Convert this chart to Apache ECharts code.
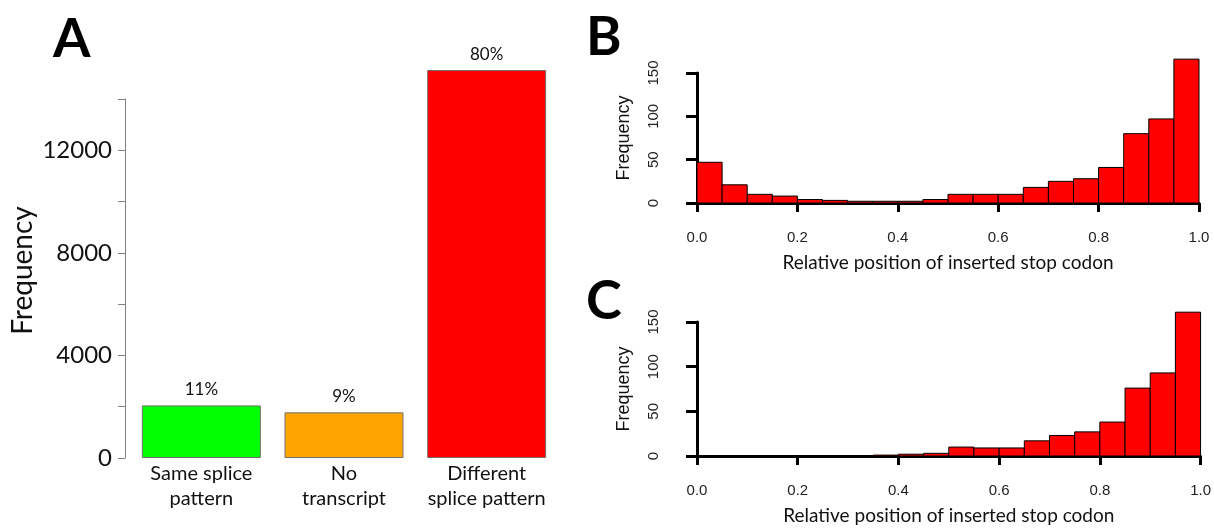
<!DOCTYPE html>
<html>
<head>
<meta charset="utf-8">
<script src="https://cdn.jsdelivr.net/npm/echarts@6/dist/echarts.min.js"></script>
<style>
html, body { margin: 0; padding: 0; background: #fff; }
#chart { width: 1214px; height: 529px; }
</style>
</head>
<body>
<div id="chart"></div>
<script>
// panel A: outcome counts
const outcomeNames = ['Same splice\npattern', 'No\ntranscript', 'Different\nsplice pattern'];
const outcomeCounts = [2050, 1780, 15130];
const outcomePct = ['11%', '9%', '80%'];
const outcomeColors = ['#00ff00', '#ffa500', '#ff0000'];

// panels B and C: histograms of relative stop codon position (bins of 0.05)
const binStarts = [0, 0.05, 0.1, 0.15, 0.2, 0.25, 0.3, 0.35, 0.4, 0.45,
                   0.5, 0.55, 0.6, 0.65, 0.7, 0.75, 0.8, 0.85, 0.9, 0.95];
const binWidth = 0.05;
const histB = [47, 21, 10, 8, 4, 3, 2, 2, 2, 4, 10, 10, 10, 18, 25, 28, 41, 80, 97, 166];
const histC = [null, null, null, null, null, null, null, 1, 2, 3, 10, 9, 9, 17, 23, 27, 38, 76, 93, 161];

const xTitle = 'Relative position of inserted stop codon';

function histData(counts) {
    let out = [];
    counts.forEach((c, i) => {
        if (c !== null) out.push([binStarts[i], binStarts[i] + binWidth, c]);
    });
    return out;
}

function renderBin(params, api) {
    const p0 = api.coord([api.value(0), 0]);
    const p1 = api.coord([api.value(1), api.value(2)]);
    return {
        type: 'rect',
        shape: { x: p0[0], y: p1[1], width: p1[0] - p0[0], height: p0[1] - p1[1] },
        style: { fill: '#ff0000', stroke: '#000', lineWidth: 1 }
    };
}

// shared style for the R-like axes of B and C
function histXAxis(idx) {
    return {
        gridIndex: idx, type: 'value', min: 0, max: 1, interval: 0.2, offset: 7,
        name: xTitle, nameLocation: 'middle', nameGap: 43,
        nameTextStyle: { fontFamily: 'Lato', fontSize: 19, color: '#111' },
        axisLine: { lineStyle: { color: '#000', width: 3 } },
        axisTick: { length: 9, lineStyle: { color: '#000', width: 3 } },
        axisLabel: { margin: 20, fontFamily: 'Liberation Sans', fontSize: 15, color: '#222',
            formatter: v => v.toFixed(1) },
        splitLine: { show: false }
    };
}
function histYAxis(idx) {
    return {
        gridIndex: idx, type: 'value', min: 0, max: 150, interval: 50, offset: 20,
        name: 'Frequency', nameLocation: 'middle', nameGap: 44,
        nameTextStyle: { fontFamily: 'Liberation Sans', fontSize: 18, color: '#111' },
        axisLine: { show: true, lineStyle: { color: '#000', width: 3 } },
        axisTick: { show: true, length: 11, lineStyle: { color: '#000', width: 3 } },
        axisLabel: { rotate: 90, margin: 16, fontFamily: 'Liberation Sans', fontSize: 15, color: '#222' },
        splitLine: { show: false }
    };
}

const chart = echarts.init(document.getElementById('chart'));
const option = {
    animation: false,
    backgroundColor: '#fff',
    grid: [
        { left: 130, top: 99, width: 428, height: 359 },
        { left: 697, top: 73, width: 502, height: 130 },
        { left: 697, top: 322, width: 504, height: 134 }
    ],
    graphic: [
        { type: 'text', left: 53, top: 13, style: { text: 'A', font: 'bold 54px Lato', fill: '#000' } },
        { type: 'text', left: 586, top: 11, style: { text: 'B', font: 'bold 54px Lato', fill: '#000' } },
        { type: 'text', left: 586, top: 275, style: { text: 'C', font: 'bold 54px Lato', fill: '#000' } }
    ],
    xAxis: [
        {
            gridIndex: 0, type: 'category', data: outcomeNames,
            axisLine: { show: false }, axisTick: { show: false },
            axisLabel: { interval: 0, margin: 3, fontFamily: 'Lato', fontSize: 20, lineHeight: 25, color: '#111' }
        },
        histXAxis(1),
        histXAxis(2)
    ],
    yAxis: [
        {
            gridIndex: 0, type: 'value', min: 0, max: 14000, interval: 2000, offset: 5,
            name: 'Frequency', nameLocation: 'middle', nameGap: 88,
            nameTextStyle: { fontFamily: 'Lato', fontSize: 28, color: '#111', padding: [0, 0, 0, 16] },
            axisLine: { show: true, lineStyle: { color: '#808080', width: 1 } },
            axisTick: { show: true, length: 7, lineStyle: { color: '#808080' } },
            axisLabel: { margin: 13, fontFamily: 'Lato', fontSize: 24, color: '#111',
                formatter: v => (v % 4000 === 0 ? v : '') },
            splitLine: { show: false }
        },
        histYAxis(1),
        histYAxis(2)
    ],
    series: [
        {
            type: 'bar', xAxisIndex: 0, yAxisIndex: 0, barWidth: 119, clip: false,
            data: outcomeCounts.map((v, i) => ({
                value: v,
                itemStyle: { color: outcomeColors[i], borderColor: '#707070', borderWidth: 1 }
            })),
            label: {
                show: true, position: 'top', distance: 7,
                fontFamily: 'Lato', fontSize: 17, color: '#111',
                formatter: p => outcomePct[p.dataIndex]
            }
        },
        {
            type: 'custom', xAxisIndex: 1, yAxisIndex: 1, clip: false,
            renderItem: renderBin, encode: { x: [0, 1], y: 2 },
            data: histData(histB)
        },
        {
            type: 'custom', xAxisIndex: 2, yAxisIndex: 2, clip: false,
            renderItem: renderBin, encode: { x: [0, 1], y: 2 },
            data: histData(histC)
        }
    ]
};
chart.setOption(option);
</script>
</body>
</html>
